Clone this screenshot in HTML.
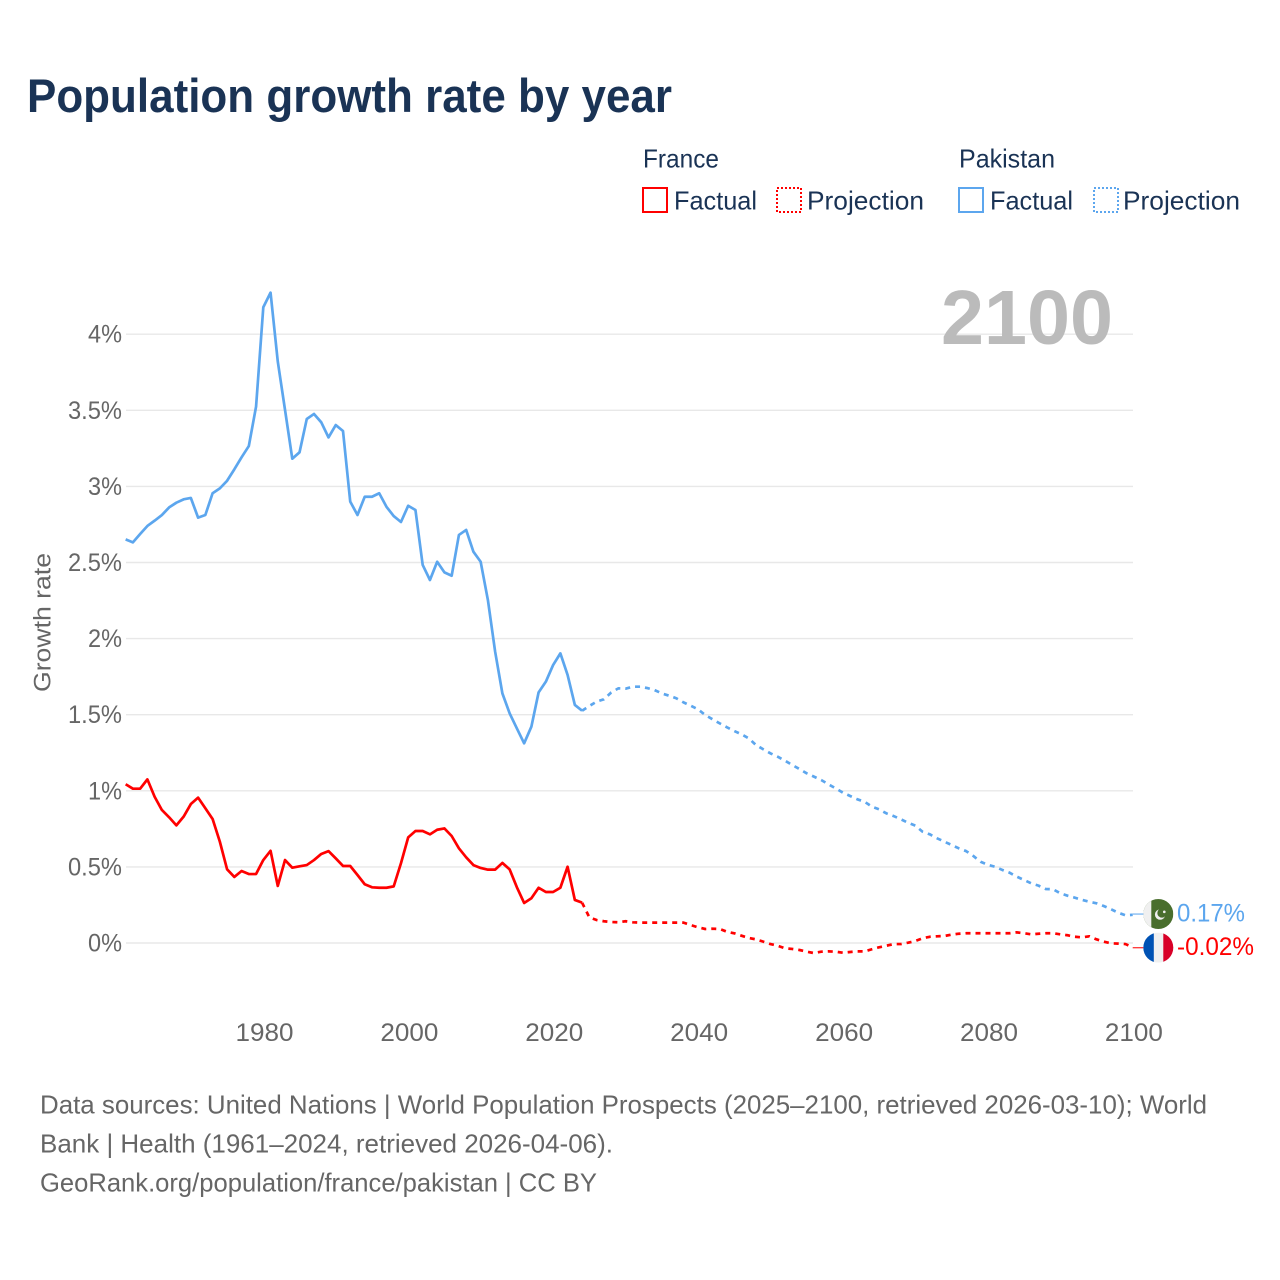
<!DOCTYPE html>
<html lang="en">
<head>
<meta charset="utf-8">
<title>Population growth rate by year</title>
<style>
html,body{margin:0;padding:0;background:#fff;width:1280px;height:1280px;overflow:hidden}
svg{display:block}
text{font-family:"Liberation Sans",sans-serif}
</style>
</head>
<body>
<svg id="chart" xmlns="http://www.w3.org/2000/svg" width="1280" height="1280" viewBox="0 0 1280 1280">
  <rect x="0" y="0" width="1280" height="1280" fill="#ffffff"/>
  <text x="27" y="112" font-size="47" font-weight="bold" fill="#1a3355" textLength="645" lengthAdjust="spacingAndGlyphs">Population growth rate by year</text>

  <g font-size="26" fill="#1a3355">
    <text x="643" y="167.5" textLength="76" lengthAdjust="spacingAndGlyphs">France</text>
    <rect x="643" y="188" width="24" height="24" fill="none" stroke="#ff0000" stroke-width="2"/>
    <text x="674" y="209.5" textLength="83" lengthAdjust="spacingAndGlyphs">Factual</text>
    <rect x="777" y="188" width="24" height="24" fill="none" stroke="#ff0000" stroke-width="2" stroke-dasharray="2 2"/>
    <text x="807" y="209.5" textLength="117" lengthAdjust="spacingAndGlyphs">Projection</text>
    <text x="959" y="167.5" textLength="96" lengthAdjust="spacingAndGlyphs">Pakistan</text>
    <rect x="959" y="188" width="24" height="24" fill="none" stroke="#5ca6ee" stroke-width="2"/>
    <text x="990" y="209.5" textLength="83" lengthAdjust="spacingAndGlyphs">Factual</text>
    <rect x="1094" y="188" width="24" height="24" fill="none" stroke="#5ca6ee" stroke-width="2" stroke-dasharray="2 2"/>
    <text x="1123" y="209.5" textLength="117" lengthAdjust="spacingAndGlyphs">Projection</text>
  </g>

  <g id="grid"></g>
  <g id="yTicks"></g>
  <g id="xTicks"></g>
  <text transform="translate(50.5 622.5) rotate(-90)" text-anchor="middle" font-size="24.5" fill="#666666" textLength="139" lengthAdjust="spacingAndGlyphs">Growth rate</text>
  <text x="941" y="344" font-size="77" font-weight="bold" fill="#bbbbbb" textLength="172" lengthAdjust="spacingAndGlyphs">2100</text>

  <g id="series"></g>
  <g id="flags"></g>

  <g font-size="26" fill="#666666">
    <text x="40" y="1113.5" textLength="1167" lengthAdjust="spacingAndGlyphs">Data sources: United Nations | World Population Prospects (2025–2100, retrieved 2026-03-10); World</text>
    <text x="40" y="1152.5" textLength="573" lengthAdjust="spacingAndGlyphs">Bank | Health (1961–2024, retrieved 2026-04-06).</text>
    <text x="40" y="1191.5" textLength="557" lengthAdjust="spacingAndGlyphs">GeoRank.org/population/france/pakistan | CC BY</text>
  </g>
</svg>
<script>
const factualStartYear = 1961;
const projectionStartYear = 2024;
const yearTicks = [1980, 2000, 2020, 2040, 2060, 2080, 2100];
const growthTicks = [0, 0.5, 1, 1.5, 2, 2.5, 3, 3.5, 4];
const pakistanFactual = [2.652,2.632,2.687,2.74,2.775,2.812,2.862,2.893,2.915,2.924,2.795,2.812,2.955,2.987,3.037,3.112,3.191,3.265,3.524,4.177,4.273,3.82,3.502,3.182,3.224,3.443,3.476,3.421,3.322,3.403,3.364,2.9,2.812,2.932,2.932,2.955,2.866,2.805,2.766,2.873,2.845,2.484,2.385,2.505,2.435,2.413,2.681,2.714,2.571,2.505,2.254,1.914,1.64,1.509,1.41,1.312,1.421,1.647,1.717,1.826,1.903,1.761,1.564,1.526];
const pakistanProjection = [1.526,1.557,1.586,1.601,1.645,1.673,1.671,1.684,1.684,1.675,1.662,1.64,1.625,1.608,1.581,1.559,1.535,1.498,1.47,1.443,1.417,1.393,1.371,1.345,1.301,1.273,1.246,1.224,1.198,1.17,1.143,1.115,1.093,1.071,1.043,1.016,0.988,0.966,0.944,0.928,0.896,0.878,0.852,0.834,0.813,0.79,0.771,0.731,0.714,0.688,0.666,0.644,0.622,0.604,0.572,0.534,0.514,0.501,0.48,0.462,0.436,0.414,0.392,0.377,0.355,0.353,0.327,0.311,0.298,0.283,0.271,0.261,0.243,0.222,0.199,0.182,0.185];
const franceFactual = [1.043,1.014,1.014,1.075,0.961,0.874,0.826,0.773,0.83,0.913,0.955,0.885,0.815,0.666,0.484,0.434,0.473,0.453,0.453,0.545,0.606,0.375,0.545,0.495,0.504,0.512,0.545,0.585,0.604,0.556,0.506,0.506,0.447,0.386,0.366,0.363,0.363,0.372,0.524,0.694,0.736,0.736,0.714,0.744,0.753,0.703,0.622,0.563,0.512,0.493,0.482,0.482,0.526,0.484,0.366,0.263,0.294,0.363,0.335,0.335,0.363,0.501,0.283,0.265];
const franceProjection = [0.265,0.169,0.151,0.143,0.138,0.136,0.143,0.136,0.134,0.134,0.134,0.134,0.134,0.134,0.134,0.118,0.103,0.092,0.094,0.092,0.074,0.064,0.048,0.033,0.024,0.009,-0.007,-0.018,-0.035,-0.039,-0.046,-0.057,-0.066,-0.057,-0.055,-0.057,-0.064,-0.059,-0.055,-0.055,-0.041,-0.028,-0.018,-0.007,-0.007,0.002,0.013,0.031,0.041,0.044,0.046,0.055,0.061,0.064,0.064,0.064,0.064,0.064,0.064,0.064,0.07,0.064,0.057,0.061,0.064,0.064,0.057,0.051,0.041,0.037,0.044,0.024,0.009,-0.002,-0.004,-0.007,-0.028];
const endLabels = ["0.17%", "-0.02%"];

const NS = "http://www.w3.org/2000/svg";
const RED = "#ff0000";
const BLUE = "#5ca6ee";
function xScale(year) { return 263.3 + (year - 1980) * 7.245; }
function yScale(value) { return 943 - value * 152.2; }
function make(tag, attrs, parent) {
  const el = document.createElementNS(NS, tag);
  for (const k in attrs) el.setAttribute(k, attrs[k]);
  parent.appendChild(el);
  return el;
}
function pathFrom(values, startYear) {
  return values.map(function (v, i) {
    return (i ? "L" : "M") + xScale(startYear + i).toFixed(2) + " " + yScale(v).toFixed(2);
  }).join("");
}

const gridGroup = document.getElementById("grid");
const yGroup = document.getElementById("yTicks");
growthTicks.forEach(function (t) {
  const line = make("line", {x1: 126, x2: 1133, y1: yScale(t), y2: yScale(t), stroke: "#e8e8e8", "stroke-width": 1.4}, gridGroup);
  
  
  const label = t + "%";
  const txt = make("text", {x: 122, y: yScale(t) + 8.5, "text-anchor": "end", "font-size": 25, fill: "#666666", textLength: label.length > 2 ? 54 : 34, lengthAdjust: "spacingAndGlyphs"}, yGroup);
  txt.textContent = label;
  
  
});

const xGroup = document.getElementById("xTicks");
yearTicks.forEach(function (t) {
  const txt = make("text", {x: xScale(t) + 1.2, y: 1041, "text-anchor": "middle", "font-size": 25, fill: "#666666", textLength: 58, lengthAdjust: "spacingAndGlyphs"}, xGroup);
  txt.textContent = String(t);
  
  
});

const seriesGroup = document.getElementById("series");
function drawLine(values, startYear, color, dashed, name) {
  const attrs = {d: pathFrom(values, startYear), fill: "none", stroke: color, "stroke-width": 2.7, "stroke-linejoin": "round"};
  if (dashed) attrs["stroke-dasharray"] = "5 5";
  const p = make("path", attrs, seriesGroup);
  
  
}
drawLine(pakistanFactual, factualStartYear, BLUE, false, "pakistan-factual-line");
drawLine(pakistanProjection, projectionStartYear, BLUE, true, "pakistan-projection-line");
drawLine(franceFactual, factualStartYear, RED, false, "france-factual-line");
drawLine(franceProjection, projectionStartYear, RED, true, "france-projection-line");

const flagGroup = document.getElementById("flags");
const defs = make("defs", {}, flagGroup);
const R = 15;
const flagX = 1158.3;
function clip(id, cy) {
  const c = make("clipPath", {id: id}, defs);
  make("circle", {cx: flagX, cy: cy, r: R}, c);
}
function connector(cy, color, name) {
  const l = make("line", {x1: xScale(2100), x2: flagX, y1: cy, y2: cy, stroke: color, "stroke-width": 1.4, "stroke-opacity": 0.75}, flagGroup);
  
  
}
const pkY = yScale(pakistanProjection[pakistanProjection.length - 1]) - 0.8;
const frY = yScale(franceProjection[franceProjection.length - 1]) + 0.4;
connector(pkY, BLUE, "pakistan-connector");
connector(frY, RED, "france-connector");

clip("pkClip", pkY);
const pk = make("g", {"clip-path": "url(#pkClip)"}, flagGroup);


make("rect", {x: flagX - R, y: pkY - R, width: 2 * R, height: 2 * R, fill: "#496e2d"}, pk);
make("rect", {x: flagX - R, y: pkY - R, width: 8, height: 2 * R, fill: "#f0f0f0"}, pk);
make("circle", {cx: flagX + 1.8, cy: pkY + 0.5, r: 5.2, fill: "#f0f0f0"}, pk);
make("circle", {cx: flagX + 3.6, cy: pkY - 1, r: 4.6, fill: "#496e2d"}, pk);
make("circle", {cx: flagX + 6, cy: pkY - 2.2, r: 1.3, fill: "#f0f0f0"}, pk);

clip("frClip", frY);
const fr = make("g", {"clip-path": "url(#frClip)"}, flagGroup);


make("rect", {x: flagX - R, y: frY - R, width: 2 * R, height: 2 * R, fill: "#f0f0f0"}, fr);
make("rect", {x: flagX - R, y: frY - R, width: 10.5, height: 2 * R, fill: "#0052b4"}, fr);
make("rect", {x: flagX + 5, y: frY - R, width: 10.5, height: 2 * R, fill: "#d80027"}, fr);

const pkLabel = make("text", {x: 1177, y: pkY + 7.5, "font-size": 25, fill: BLUE, textLength: 68, lengthAdjust: "spacingAndGlyphs"}, flagGroup);
pkLabel.textContent = endLabels[0];


const frLabel = make("text", {x: 1177, y: frY + 7.5, "font-size": 25, fill: RED, textLength: 77, lengthAdjust: "spacingAndGlyphs"}, flagGroup);
frLabel.textContent = endLabels[1];


</script>
</body>
</html>
